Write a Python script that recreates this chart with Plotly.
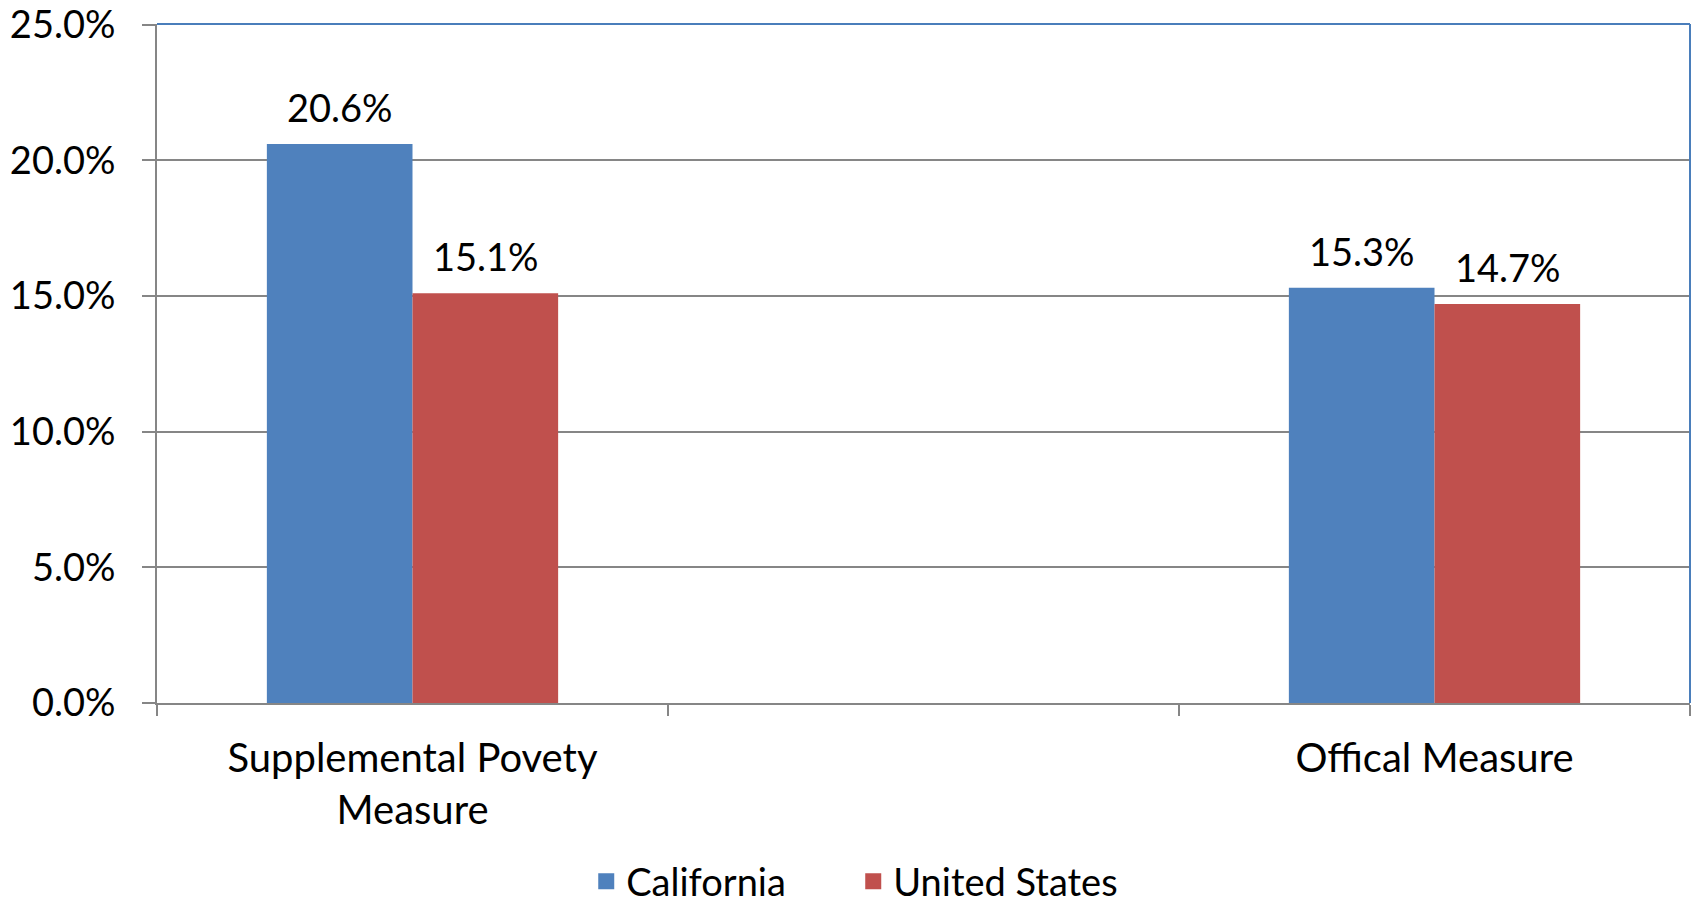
import plotly.graph_objects as go

categories = ["Supplemental Povety<br>Measure", " ", "Offical Measure"]
california = [0.206, None, 0.153]
united_states = [0.151, None, 0.147]
series_names = ["California", "United States"]
colors = ["#4F81BD", "#C0504D"]
y_ticks = [0, 0.05, 0.10, 0.15, 0.20, 0.25]

FONT = "Lato"
FS = 38
BAR_HALF_PX = 73  # half bar width in pixels, for label offsets

fig = go.Figure()
for name, vals, col in zip(series_names, [california, united_states], colors):
    fig.add_bar(
        x=categories, y=vals, name=name, marker_color=col, marker_line_width=0,
        showlegend=False,
    )
for name, col in zip(series_names, colors):
    fig.add_scatter(
        x=[categories[0]], y=[None], mode="markers", name=name,
        marker=dict(symbol="square", size=24, color=col),
    )

annotations = []
for k, vals in enumerate([california, united_states]):
    shift = -BAR_HALF_PX if k == 0 else BAR_HALF_PX
    for cat, v in zip(categories, vals):
        if v is None:
            continue
        annotations.append(dict(
            x=cat, y=v, xref="x", yref="y", text=f"{v*100:.1f}%",
            showarrow=False, xshift=shift, yshift=12, yanchor="bottom",
            font=dict(size=FS, color="black", family=FONT),
        ))

fig.update_layout(
    width=1696, height=903,
    margin=dict(l=157, r=6, t=24, b=200, autoexpand=False),
    paper_bgcolor="white", plot_bgcolor="white",
    font=dict(family=FONT, size=FS, color="black"),
    barmode="group", bargap=0.43, bargroupgap=0,
    legend=dict(orientation="h", x=0.280, xanchor="left", yref="paper",
                y=-0.263, yanchor="middle", font=dict(size=FS), itemsizing="trace",
                entrywidth=222, tracegroupgap=0),
    annotations=annotations,
    shapes=[
        dict(type="line", xref="paper", yref="paper", x0=0, x1=1, y0=1, y1=1,
             line=dict(color="#4A7EBB", width=2), layer="above"),
        dict(type="line", xref="paper", yref="paper", x0=1, x1=1, y0=0, y1=1,
             line=dict(color="#4A7EBB", width=2), layer="above"),
    ],
)
fig.update_yaxes(
    range=[0, 0.2502], tickvals=y_ticks, tickformat=".1%",
    showgrid=True, gridcolor="#868686", gridwidth=1.5,
    showline=True, linecolor="#868686", linewidth=2,
    ticks="outside", ticklen=13, tickcolor="#868686", tickwidth=2,
    zeroline=False, ticklabelstandoff=19, automargin=False,
    ticklabeloverflow="allow",
)
fig.update_xaxes(
    type="category", tickson="boundaries", ticks="outside", ticklen=11,
    tickcolor="#868686", tickwidth=2,
    showline=True, linecolor="#868686", linewidth=2, showgrid=False,
    ticklabelstandoff=19, automargin=False, tickfont=dict(size=40),
)

fig.write_html(
    "out.html",
    config={"displayModeBar": False},
    post_script="document.body.style.margin='0';document.body.style.overflow='hidden';",
)
